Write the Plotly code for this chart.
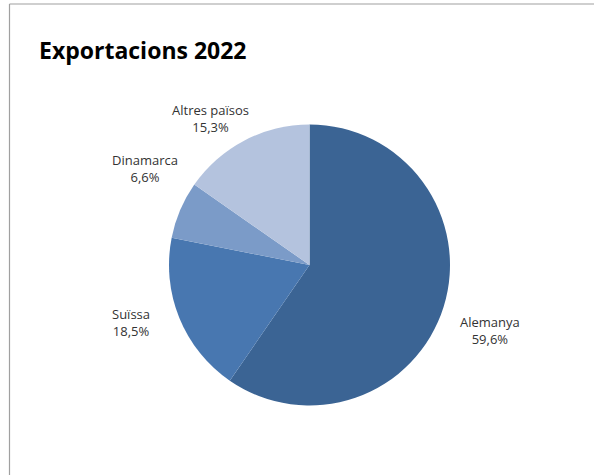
import math
import plotly.graph_objects as go

labels = ["Alemanya", "Suïssa", "Dinamarca", "Altres països"]
values = [59.6, 18.5, 6.6, 15.3]
pct_text = ["59,6%", "18,5%", "6,6%", "15,3%"]
colors = ["#3b6494", "#4877b0", "#7b9bc8", "#b4c3de"]

# label nudges (pixels) relative to the slice's mid-angle point on the rim
label_dx = [46, -48, -35, -34]
label_dy = [-24, -5, 42, 22]

W, H = 594, 475
cx, cy, r = 309.5, 265, 140.5

fig = go.Figure(go.Pie(
    labels=labels,
    values=values,
    textinfo="none",
    sort=False,
    direction="clockwise",
    rotation=0,
    marker=dict(colors=colors, line=dict(width=0)),
    domain=dict(x=[(cx - r) / W, (cx + r) / W], y=[1 - (cy + r) / H, 1 - (cy - r) / H]),
    showlegend=False,
    hoverinfo="none",
))

total = sum(values)
cum = 0.0
annotations = []
for lab, v, pt, dx, dy in zip(labels, values, pct_text, label_dx, label_dy):
    mid = (cum + v / 2) / total * 2 * math.pi
    cum += v
    px = cx + r * math.sin(mid)
    py = cy - r * math.cos(mid)
    annotations.append(dict(
        x=px / W, y=1 - py / H, xref="paper", yref="paper",
        text=f"{lab}<br>{pt}", showarrow=False,
        xanchor="center", yanchor="middle",
        xshift=dx, yshift=dy,
        font=dict(family="Open Sans", size=13, color="#333333"),
    ))

fig.update_layout(
    width=W, height=H,
    margin=dict(l=0, r=0, t=0, b=0),
    paper_bgcolor="white",
    plot_bgcolor="white",
    title=dict(text="<b>Exportacions 2022</b>", x=39 / W, xanchor="left", y=1 - 51 / H, yanchor="middle",
               font=dict(family="Open Sans", size=23, color="#000000")),
    annotations=annotations,
    shapes=[
        dict(type="line", xref="paper", yref="paper", x0=9.5 / W, x1=1, y0=1 - 4 / H, y1=1 - 4 / H,
             line=dict(color="#a0a0a0", width=1.2)),
        dict(type="line", xref="paper", yref="paper", x0=9.5 / W, x1=9.5 / W, y0=0, y1=1 - 4 / H,
             line=dict(color="#a0a0a0", width=1.2)),
    ],
)

fig.write_html("out.html", config={"displayModeBar": False},
               post_script="document.body.style.margin='0';document.body.style.overflow='hidden';")
